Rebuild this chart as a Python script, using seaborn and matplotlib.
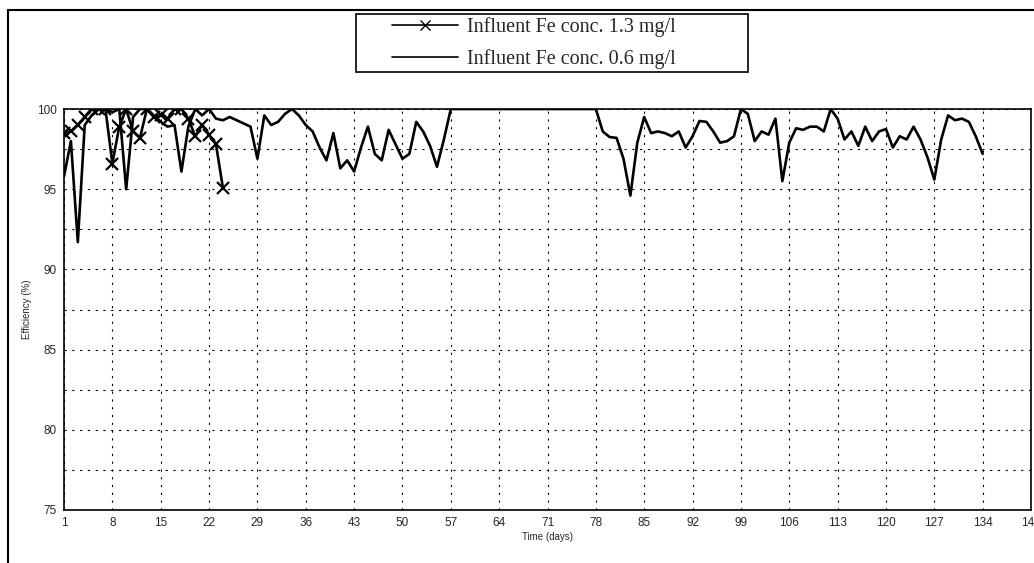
import numpy as np
import pandas as pd
import seaborn as sns
import matplotlib.pyplot as plt
from matplotlib.lines import Line2D
from matplotlib.patches import Rectangle

# days and efficiency values
days_high = list(range(1, 25))
eff_high = [98.5, 98.6, 99.0, 99.5, 100, 100, 100, 96.6, 98.9, 100, 98.6, 98.2,
            100, 99.5, 99.6, 99.4, 100, 100, 99.4, 98.3, 99.0, 98.4, 97.8, 95.1]

days_low = list(range(1, 135))
eff_low = [95.8, 98.0, 91.7, 99.0, 99.6, 100, 100, 99.8, 100, 95.0,
           99.5, 100, 100, 99.6, 99.2, 98.9, 99.0, 96.1, 98.9, 100,
           99.6, 100, 99.4, 99.3, 99.5, 99.3, 99.1, 98.9, 96.9, 99.6,
           99.0, 99.2, 99.7, 100, 99.6, 99.0, 98.6, 97.6, 96.8, 98.5,
           96.3, 96.8, 96.1, 97.6, 98.9, 97.2, 96.8, 98.7, 97.8, 96.9,
           97.2, 99.2, 98.6, 97.7, 96.4, 98.1, 100, 100, 100, 100,
           100, 100, 100, 100, 100, 100, 100, 100, 100, 100,
           100, 100, 100, 100, 100, 100, 100, 100, 98.6, 98.25,
           98.2, 96.9, 94.6, 97.9, 99.5, 98.5, 98.6, 98.5, 98.3, 98.6,
           97.6, 98.3, 99.25, 99.2, 98.6, 97.9, 98.0, 98.3, 100, 99.7,
           98.0, 98.6, 98.4, 99.4, 95.5, 97.9, 98.8, 98.7, 98.9, 98.9,
           98.6, 100, 99.4, 98.1, 98.6, 97.7, 98.9, 98.0, 98.6, 98.75,
           97.6, 98.3, 98.1, 98.9, 98.1, 97.0, 95.6, 98.1, 99.6, 99.3,
           99.4, 99.2, 98.3, 97.2]

x_ticks = list(range(1, 142, 7))
y_ticks = [75, 80, 85, 90, 95, 100]

label_high = "Influent Fe conc. 1.3 mg/l"
label_low = "Influent Fe conc. 0.6 mg/l"

sns.set_style("white")
plt.rcParams['font.family'] = ['Liberation Sans', 'DejaVu Sans']

W, H = 1034, 563
fig = plt.figure(figsize=(W / 100, H / 100), dpi=100)
ax = fig.add_axes([64 / W, 1 - 510 / H, (1031 - 64) / W, (510 - 109) / H])

sns.lineplot(x=days_low, y=eff_low, ax=ax, color='black', linewidth=1.9)
sns.lineplot(x=days_high, y=eff_high, ax=ax, color='black', linewidth=1.9,
             marker='x', markersize=8, markeredgewidth=1.6, markeredgecolor='black')

ax.set_xlim(1, 141)
ax.set_ylim(75, 100)
ax.set_xticks(x_ticks)
ax.set_yticks(y_ticks)
ax.set_yticks(np.arange(77.5, 100, 5), minor=True)
ax.tick_params(axis='both', labelsize=8.5, length=3, direction='inout', color='black')
ax.tick_params(axis='y', which='minor', length=0)
ax.grid(True, which='both', linestyle=(0, (2, 5)), color='black', linewidth=0.8)
for s in ax.spines.values():
    s.set_color('black')
    s.set_linewidth(1.2)
ax.set_xlabel("Time (days)", fontsize=7, labelpad=2)
ax.set_ylabel("Efficiency (%)", fontsize=7, labelpad=4)

# outer frame of the original figure (left and top edges)
fig.add_artist(Line2D([8 / W, 8 / W], [0, 1 - 10 / H], transform=fig.transFigure,
                      color='black', linewidth=1.5))
fig.add_artist(Line2D([8 / W, 1], [1 - 10 / H, 1 - 10 / H], transform=fig.transFigure,
                      color='black', linewidth=1.5))

# legend box drawn separately so its size follows the original
fig.add_artist(Rectangle((356 / W, 1 - 72 / H), (748 - 356) / W, (72 - 14) / H,
                         transform=fig.transFigure, fill=False, edgecolor='black',
                         linewidth=1.2))
handles = [Line2D([], [], color='black', linewidth=1.2, marker='x', markersize=7),
           Line2D([], [], color='black', linewidth=1.2)]
fig.legend(handles, [label_high, label_low], loc='upper left',
           bbox_to_anchor=(388 / W, 1 - 13 / H),
           prop={'family': 'Liberation Serif', 'size': 14.5},
           frameon=False, handlelength=3.3, handletextpad=0.4,
           borderpad=0.2, labelspacing=0.6, borderaxespad=0)

fig.savefig("out.png", dpi=100)
